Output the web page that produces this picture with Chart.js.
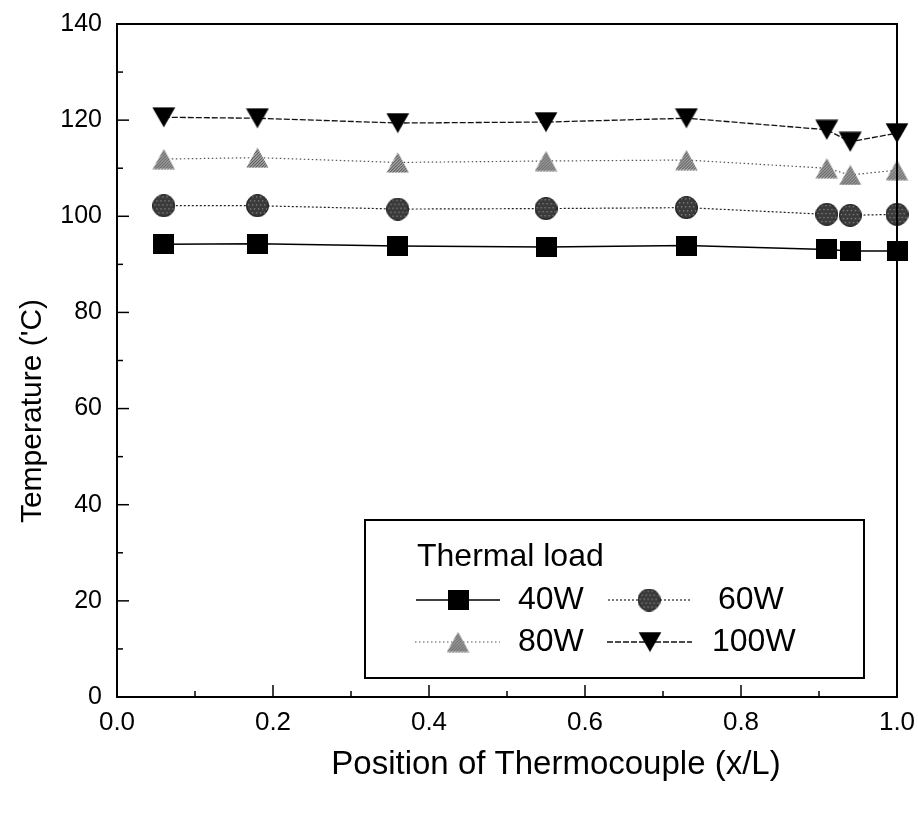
<!DOCTYPE html>
<html><head><meta charset="utf-8">
<script src="https://cdn.jsdelivr.net/npm/chart.js@4/dist/chart.umd.min.js"></script>
<style>html,body{margin:0;padding:0;background:#fff}canvas{display:block}</style>
</head><body>
<canvas id="c" width="918" height="813"></canvas>
<script>
// ---- data ----
const positions = [0.06, 0.18, 0.36, 0.55, 0.73, 0.91, 0.94, 1.0];
const load40  = [94.2, 94.3, 93.8, 93.6, 93.9, 93.1, 92.8, 92.8];
const load60  = [102.2, 102.2, 101.5, 101.6, 101.8, 100.4, 100.2, 100.4];
const load80  = [111.9, 112.2, 111.2, 111.5, 111.7, 110.0, 108.6, 109.6];
const load100 = [120.6, 120.4, 119.4, 119.6, 120.4, 118.0, 115.5, 117.3];
const seriesLabels = ['40W', '60W', '80W', '100W'];
const legendTitle = 'Thermal load';
const xTitle = 'Position of Thermocouple (x/L)';
const yTitle = "Temperature ('C)";
const yTicks = [0, 20, 40, 60, 80, 100, 120, 140];
const xTicks = [0.0, 0.2, 0.4, 0.6, 0.8, 1.0];

const FONT = '"Liberation Sans", Arial, Helvetica, sans-serif';

// ---- marker images ----
function mk(w, h, draw) {
  const c = document.createElement('canvas');
  c.width = w; c.height = h;
  draw(c.getContext('2d'), w, h);
  return c;
}
const squareImg = mk(21, 20, (g, w, h) => { g.fillStyle = '#000'; g.fillRect(0, 0, w, h); });
const circleImg = mk(23, 23, (g, w, h) => {
  g.beginPath(); g.arc(w/2, h/2, w/2 - 0.5, 0, Math.PI*2);
  g.fillStyle = '#3a3a3a'; g.fill();
  g.save(); g.clip();
  g.fillStyle = '#8a8a8a';
  for (let y = 2; y < h; y += 4) for (let x = (y % 8 === 2 ? 2 : 4); x < w; x += 4) { g.fillRect(x, y, 1.3, 1.3); }
  g.restore();
  g.lineWidth = 1; g.strokeStyle = '#111'; g.stroke();
});
const triUpImg = mk(23, 21, (g, w, h) => {
  g.beginPath(); g.moveTo(w/2, 0.5); g.lineTo(w - 0.5, h - 0.5); g.lineTo(0.5, h - 0.5); g.closePath();
  g.fillStyle = '#cfcfcf'; g.fill();
  g.save(); g.clip();
  g.strokeStyle = '#454545'; g.lineWidth = 1.1;
  for (let k = -h; k < w + h; k += 3) { g.beginPath(); g.moveTo(k, h); g.lineTo(k + h, 0); g.stroke(); }
  g.restore();
});
const triDownImg = mk(24, 21, (g, w, h) => {
  g.beginPath(); g.moveTo(0.5, 0.5); g.lineTo(w - 0.5, 0.5); g.lineTo(w/2, h - 0.5); g.closePath();
  g.fillStyle = '#000'; g.fill();
});

const markerImgs = [squareImg, circleImg, triUpImg, triDownImg];
const dashes = [[], [2, 2], [1.5, 2.5], [6, 2]];
const lineColors = ['#000', '#222', '#555', '#111'];
const lineWidths = [1.5, 1.2, 1.2, 1.3];
const values = [load40, load60, load80, load100];

const datasets = values.map((vals, i) => ({
  label: seriesLabels[i],
  data: positions.map((x, j) => ({ x: x, y: vals[j] })),
  borderColor: lineColors[i],
  borderWidth: lineWidths[i],
  borderDash: dashes[i],
  pointStyle: markerImgs[i],
  pointRadius: 11,
  pointHoverRadius: 11,
  tension: 0,
  clip: false,
  fill: false
}));

// ---- plugin: frame, inward ticks, axis titles, legend ----
const decor = {
  id: 'decor',
  afterDraw(chart) {
    const g = chart.ctx;
    const a = chart.chartArea;
    const xs = chart.scales.x, ys = chart.scales.y;
    g.save();
    g.strokeStyle = '#000';
    g.lineWidth = 2;
    g.beginPath();
    g.moveTo(a.left, a.top); g.lineTo(a.right, a.top); g.lineTo(a.right, a.bottom);
    g.stroke();
    g.lineWidth = 1.5;
    for (let v = 0; v <= 140; v += 10) {
      const p = ys.getPixelForValue(v);
      const len = v % 20 === 0 ? 12 : 6;
      g.beginPath(); g.moveTo(a.left, p); g.lineTo(a.left + len, p); g.stroke();
    }
    for (let k = 0; k <= 10; k++) {
      const p = xs.getPixelForValue(k / 10);
      const len = k % 2 === 0 ? 12 : 6;
      g.beginPath(); g.moveTo(p, a.bottom); g.lineTo(p, a.bottom - len); g.stroke();
    }
    g.fillStyle = '#000';
    g.textAlign = 'center'; g.textBaseline = 'middle';
    g.font = '33px ' + FONT;
    g.fillText(xTitle, 556, 765);
    g.save();
    g.translate(33, 411); g.rotate(-Math.PI / 2);
    g.font = '30px ' + FONT;
    g.fillText(yTitle, 0, 0);
    g.restore();
    const L = 365, T = 520, R = 864, B = 678;
    g.fillStyle = '#fff';
    g.fillRect(L, T, R - L, B - T);
    g.lineWidth = 2; g.strokeStyle = '#000';
    g.strokeRect(L, T, R - L, B - T);
    g.fillStyle = '#000';
    g.textAlign = 'left'; g.textBaseline = 'middle';
    g.font = '32px ' + FONT;
    g.fillText(legendTitle, 417, 557);
    const items = [
      { x1: 416, x2: 500, mx: 458, y: 600, tx: 518 },
      { x1: 608, x2: 691, mx: 649, y: 600, tx: 718 },
      { x1: 415, x2: 500, mx: 458, y: 642, tx: 518 },
      { x1: 607, x2: 692, mx: 650, y: 642, tx: 712 }
    ];
    items.forEach((it, i) => {
      const ds = chart.data.datasets[i];
      g.save();
      g.strokeStyle = ds.borderColor; g.lineWidth = ds.borderWidth;
      g.setLineDash(ds.borderDash);
      g.beginPath(); g.moveTo(it.x1, it.y); g.lineTo(it.x2, it.y); g.stroke();
      g.restore();
      const img = ds.pointStyle;
      g.drawImage(img, it.mx - img.width / 2, it.y - img.height / 2);
      g.fillStyle = '#000';
      g.fillText(ds.label, it.tx, it.y);
    });
    g.restore();
  }
};

new Chart(document.getElementById('c'), {
  type: 'line',
  data: { datasets: datasets },
  options: {
    responsive: false,
    animation: false,
    events: [],
    layout: { padding: { top: 24, right: 21, left: 0, bottom: 0 } },
    plugins: { legend: { display: false }, tooltip: { enabled: false } },
    scales: {
      x: {
        type: 'linear', min: 0, max: 1,
        afterFit: s => { s.height = 116; s.paddingLeft = 0; s.paddingRight = 0; },
        afterBuildTicks: s => { s.ticks = xTicks.map(v => ({ value: v })); },
        grid: { display: false, drawTicks: false, tickLength: 0 },
        border: { display: true, color: '#000', width: 2 },
        ticks: { padding: 10, color: '#000', font: { family: FONT, size: 26 }, callback: v => v.toFixed(1), maxRotation: 0 }
      },
      y: {
        type: 'linear', min: 0, max: 140,
        afterFit: s => { s.width = 117; s.paddingTop = 0; s.paddingBottom = 0; },
        afterBuildTicks: s => { s.ticks = yTicks.map(v => ({ value: v })); },
        grid: { display: false, drawTicks: false, tickLength: 0 },
        border: { display: true, color: '#000', width: 2 },
        ticks: { padding: 15, color: '#000', font: { family: FONT, size: 25 }, callback: v => String(v) }
      }
    }
  },
  plugins: [decor]
});
</script>
</body></html>
